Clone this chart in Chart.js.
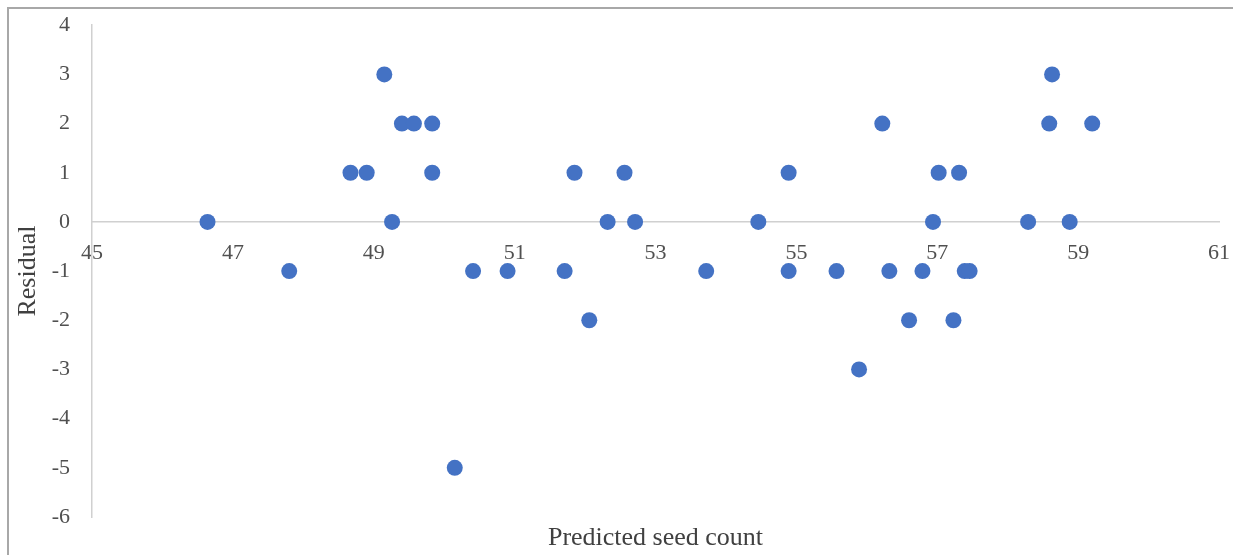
<!DOCTYPE html>
<html>
<head>
<meta charset="utf-8">
<script src="https://cdn.jsdelivr.net/npm/chart.js@4/dist/chart.umd.min.js"></script>
<style>
  html, body { margin: 0; padding: 0; background: #fff; overflow: hidden; }
  #wrap { position: relative; width: 1233px; height: 555px; overflow: hidden; }
  #frame {
    position: absolute; left: 7px; top: 7px; right: -10px; bottom: -10px;
    border-top: 2px solid #a8a8a8; border-left: 2px solid #a8a8a8;
    pointer-events: none;
  }
  canvas { position: absolute; left: 0; top: -10px; }
</style>
</head>
<body>
<div id="wrap">
  <div id="frame"></div>
  <canvas id="chart" width="1248" height="565"></canvas>
</div>
<script>
// Predicted seed count for each observation and its residual
const predicted = [46.64, 47.80, 48.67, 48.90, 49.15, 49.26, 49.40, 49.57, 49.83, 49.83,
                   50.15, 50.41, 50.90, 51.71, 51.85, 52.06, 52.32, 52.56, 52.71, 53.72,
                   54.46, 54.89, 54.89, 55.57, 55.89, 56.22, 56.32, 56.60, 56.79, 56.94,
                   57.02, 57.23, 57.31, 57.39, 57.46, 58.29, 58.59, 58.63, 58.88, 59.20];
const residual  = [0, -1, 1, 1, 3, 0, 2, 2, 2, 1,
                   -5, -1, -1, -1, 1, -2, 0, 1, 0, -1,
                   0, 1, -1, -1, -3, 2, -1, -2, -1, 0,
                   1, -2, 1, -1, -1, 0, 2, 3, 0, 2];

// Axis ranges and tick spacing
const xTicks = { min: 45, max: 61, step: 2 };
const yTicks = { min: -6, max: 4, step: 1 };

const xTitle = 'Predicted seed count';
const yTitle = 'Residual';

const points = predicted.map((x, i) => ({ x: x, y: residual[i] }));

const serif = 'Liberation Serif, Times New Roman, serif';
const axisGray = '#d0d0d0';
const tickColor = '#505050';

new Chart(document.getElementById('chart'), {
  type: 'scatter',
  data: {
    datasets: [{
      data: points,
      backgroundColor: '#4472C4',
      borderWidth: 0,
      pointRadius: 8,
      pointHoverRadius: 8
    }]
  },
  options: {
    responsive: false,
    animation: false,
    events: [],
    layout: { padding: { left: 0, right: 1, top: 14, bottom: 0 } },
    plugins: { legend: { display: false }, tooltip: { enabled: false } },
    scales: {
      x: {
        type: 'linear',
        position: { y: 0 },
        min: xTicks.min, max: xTicks.max,
        grid: { display: false, drawTicks: false },
        border: { display: true, color: axisGray, width: 1.5 },
        ticks: {
          stepSize: xTicks.step,
          padding: 18,
          color: tickColor,
          maxRotation: 0,
          font: { family: serif, size: 22 }
        }
      },
      xTitleAxis: {
        type: 'linear',
        position: 'bottom',
        axis: 'x',
        display: true,
        grid: { display: false, drawTicks: false },
        border: { display: false },
        ticks: { display: false },
        title: {
          display: true,
          text: xTitle,
          color: '#404040',
          padding: { top: 0, bottom: 1 },
          font: { family: serif, size: 26 }
        },
        afterFit: s => { s.height = 38; }
      },
      y: {
        type: 'linear',
        min: yTicks.min, max: yTicks.max,
        grid: { display: false, drawTicks: false },
        border: { display: true, color: axisGray, width: 1.5 },
        ticks: {
          stepSize: yTicks.step,
          padding: 22,
          color: tickColor,
          font: { family: serif, size: 22 }
        },
        title: {
          display: true,
          text: yTitle,
          color: '#404040',
          padding: { top: 13, bottom: 0 },
          font: { family: serif, size: 26 }
        },
        afterFit: s => { s.width = 92; }
      }
    }
  }
});
</script>
</body>
</html>
